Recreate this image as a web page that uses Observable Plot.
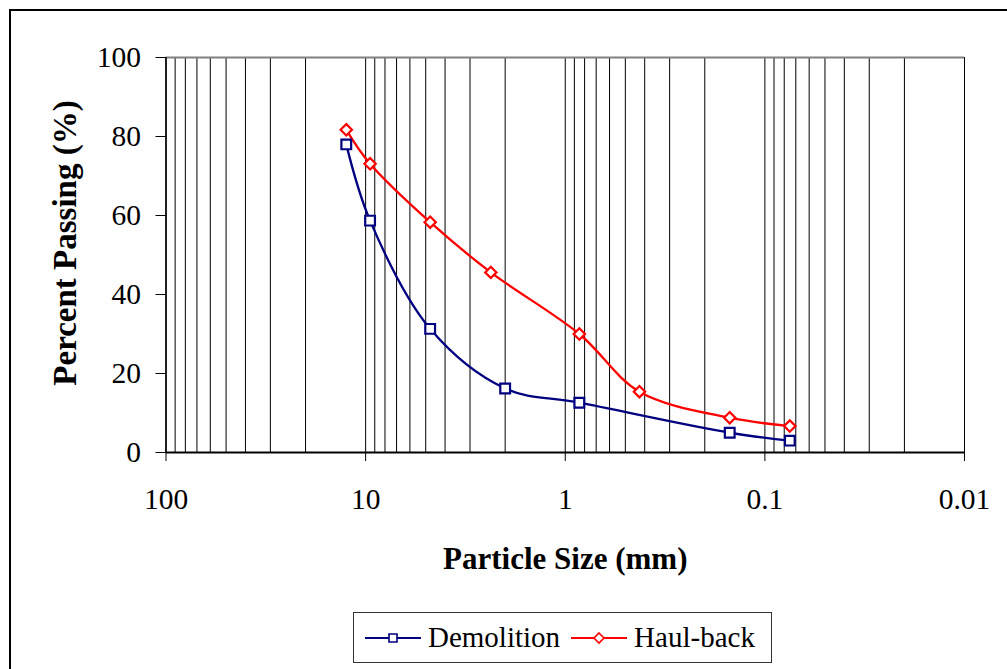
<!DOCTYPE html>
<html>
<head>
<meta charset="utf-8">
<script src="https://cdn.jsdelivr.net/npm/d3@7"></script>
<script src="https://cdn.jsdelivr.net/npm/@observablehq/plot@0.6"></script>
<style>
  html, body { margin: 0; padding: 0; background: #fff; }
  #wrap { position: relative; width: 1007px; height: 669px; overflow: hidden; font-family: "Liberation Serif", "Times New Roman", serif; }
  #border { position: absolute; left: 9px; top: 9px; width: 1100px; height: 800px; border-left: 2px solid #000; border-top: 2px solid #000; box-sizing: border-box; }
  #chart { position: absolute; left: 0; top: 0; }
  #legend { position: absolute; left: 353px; top: 612px; width: 419px; height: 51px; border: 1px solid #333; box-sizing: border-box; display: flex; align-items: center; font-size: 29px; color: #000; background: #fff; }
  #legend .item { display: flex; align-items: center; }
  #legend svg { display: block; }
</style>
</head>
<body>
<div id="wrap">
  <div id="border"></div>
  <div id="chart"></div>
  <div id="legend"></div>
</div>
<script>
// ---- data ----
const demolitionSize = [12.5, 9.5, 4.75, 2.0, 0.85, 0.15, 0.075];
const demolitionPct  = [78.0, 58.7, 31.3, 16.2, 12.6, 5.0, 3.0];
const haulSize = [12.5, 9.5, 4.75, 2.36, 0.85, 0.425, 0.15, 0.075];
const haulPct  = [81.7, 73.1, 58.3, 45.6, 30.0, 15.4, 8.8, 6.7];
const seriesNames = ["Demolition", "Haul-back"];
const seriesColors = ["#000080", "#ff0000"];
const xTicks = [100, 10, 1, 0.1, 0.01];
const yTicks = [0, 20, 40, 60, 80, 100];
const xTitle = "Particle Size (mm)";
const yTitle = "Percent Passing (%)";

const demolition = demolitionSize.map((s, i) => ({size: s, pct: demolitionPct[i]}));
const haul = haulSize.map((s, i) => ({size: s, pct: haulPct[i]}));

// vertical grid at every 1..9 x 10^k
const grid = [];
for (let k = -2; k <= 1; k++) for (let m = 1; m <= 9; m++) grid.push(+(m * Math.pow(10, k)).toPrecision(3));
grid.push(100);

const chart = Plot.plot({
  width: 1007,
  height: 669,
  marginLeft: 165.5,
  marginRight: 43,
  marginTop: 57,
  marginBottom: 217,
  style: {fontFamily: "'Liberation Serif', 'Times New Roman', serif", fontSize: "29.5px", color: "#000", background: "transparent", overflow: "visible"},
  x: {type: "log", domain: [100, 0.01]},
  y: {domain: [0, 100]},
  marks: [
    Plot.ruleX(grid, {stroke: "#000", strokeWidth: 1}),
    Plot.ruleY([100], {stroke: "#808080", strokeWidth: 2}),
    Plot.ruleX([100], {stroke: "#000", strokeWidth: 1.5}),
    Plot.ruleY([0], {stroke: "#000", strokeWidth: 2}),
    Plot.axisY({ticks: yTicks, tickSize: 10, tickPadding: 15, label: null, stroke: "#000"}),
    Plot.axisX({ticks: xTicks, tickFormat: d => String(d), tickSize: 9, tickPadding: 27, label: null, stroke: "#000"}),
    Plot.line(demolition, {x: "size", y: "pct", stroke: seriesColors[0], strokeWidth: 2.3, curve: "catmull-rom"}),
    Plot.line(haul, {x: "size", y: "pct", stroke: seriesColors[1], strokeWidth: 2.3, curve: "catmull-rom"}),
    Plot.dot(demolition, {x: "size", y: "pct", symbol: "square", r: 5.5, stroke: seriesColors[0], strokeWidth: 2.2, fill: "#fff"}),
    Plot.dot(haul, {x: "size", y: "pct", symbol: "diamond2", r: 5.1, stroke: seriesColors[1], strokeWidth: 2.2, fill: "#fff"}),
    Plot.text([xTitle], {frameAnchor: "bottom", dy: 107, fontWeight: "bold", fontSize: 31, lineAnchor: "middle", textAnchor: "middle", fill: "#000"}),
    Plot.text([yTitle], {frameAnchor: "left", dx: -101, dy: -12, rotate: -90, fontWeight: "bold", fontSize: 33, lineAnchor: "middle", textAnchor: "middle", fill: "#000"})
  ]
});
document.getElementById("chart").appendChild(chart);

// legend
const legend = document.getElementById("legend");
const symbols = ["square", "diamond"];
seriesNames.forEach((name, i) => {
  const item = document.createElement("div");
  item.className = "item";
  item.style.marginLeft = "11px";
  const ns = "http://www.w3.org/2000/svg";
  const svg = document.createElementNS(ns, "svg");
  svg.setAttribute("width", 56); svg.setAttribute("height", 20);
  const line = document.createElementNS(ns, "line");
  line.setAttribute("x1", 0); line.setAttribute("x2", 56); line.setAttribute("y1", 10); line.setAttribute("y2", 10);
  line.setAttribute("stroke", seriesColors[i]); line.setAttribute("stroke-width", 2);
  svg.appendChild(line);
  const sym = d3.symbol(symbols[i] === "square" ? d3.symbolSquare : d3.symbolDiamond2, 64)();
  const p = document.createElementNS(ns, "path");
  p.setAttribute("d", sym); p.setAttribute("transform", "translate(28,10)");
  p.setAttribute("fill", "#fff"); p.setAttribute("stroke", seriesColors[i]); p.setAttribute("stroke-width", 1.6);
  svg.appendChild(p);
  item.appendChild(svg);
  const t = document.createElement("span");
  t.textContent = name;
  t.style.marginLeft = "7px";
  item.appendChild(t);
  legend.appendChild(item);
});
</script>
</body>
</html>
